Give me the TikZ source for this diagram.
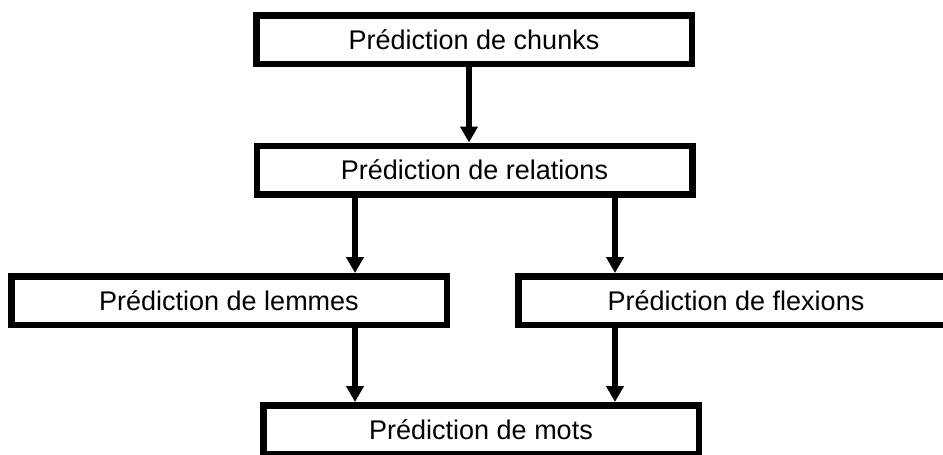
\documentclass[tikz,border=0pt]{standalone}
\usepackage{fontspec}
\setmainfont{Liberation Sans}
\usepackage{tikz}
\usetikzlibrary{
  positioning,
  arrows.meta
}

\begin{document}
\begin{tikzpicture}[x=1pt,y=-1pt,
  box/.style={draw, line width=6.5pt,
    minimum width=435.5pt, minimum height=48.5pt,
    inner sep=0pt, text height=19.3pt, text depth=0pt,
    font=\fontsize{27}{32}\selectfont},
  flow/.style={line width=6pt,
    -{Triangle[length=16pt,width=17pt]}}]
  \useasboundingbox (0,0) rectangle (943,455);

  % ---------- 方框 ----------
  \node[box] (chunks)    at (474,39.5)  {Prédiction de chunks};
  \node[box] (relations) at (474.5,170) {Prédiction de relations};
  \node[box] (lemmes)    at (229,300.5) {Prédiction de lemmes};
  \node[box] (flexions)  at (736,300.5) {Prédiction de flexions};
  \node[box] (mots)      at (481,429.5) {Prédiction de mots};

  % 箭头所在的竖线
  \coordinate (colM) at (469,0);
  \coordinate (colL) at (355,0);
  \coordinate (colR) at (615,0);

  % ---------- 箭头 ----------
  \draw[flow] (chunks.south -| colM) -- (relations.north -| colM);
  \foreach \src/\dst/\col in {relations/lemmes/colL,relations/flexions/colR,
                              lemmes/mots/colL,flexions/mots/colR}
    \draw[flow] (\src.south -| \col) -- (\dst.north -| \col);
\end{tikzpicture}
\end{document}
